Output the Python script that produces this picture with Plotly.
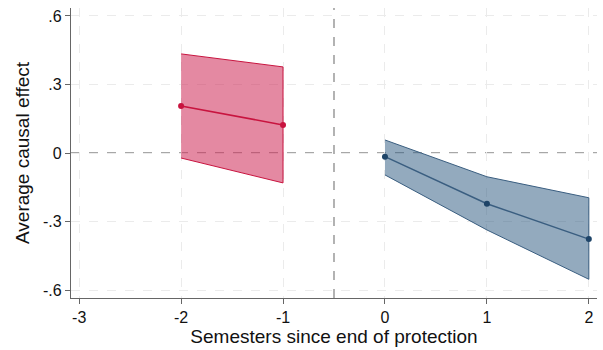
import plotly.graph_objects as go

pre_x = [-2, -1]
pre_est = [0.206, 0.123]
pre_hi = [0.434, 0.377]
pre_lo = [-0.022, -0.131]

post_x = [0, 1, 2]
post_est = [-0.016, -0.222, -0.377]
post_hi = [0.057, -0.104, -0.196]
post_lo = [-0.096, -0.337, -0.553]

x_ticks = [-3, -2, -1, 0, 1, 2]
x_labels = ["-3", "-2", "-1", "0", "1", "2"]
y_ticks = [-0.6, -0.3, 0, 0.3, 0.6]
y_labels = ["-.6", "-.3", "0", ".3", ".6"]

red_line = "#C8143F"
red_fill = "rgba(205,40,85,0.55)"
blue_line = "#3A5E80"
blue_fill = "rgba(40,85,125,0.5)"
blue_marker = "#1E4468"

fig = go.Figure()

def band(xs, hi, lo, fill, line):
    fig.add_trace(go.Scatter(
        x=list(xs) + list(xs)[::-1], y=list(hi) + list(lo)[::-1],
        fill="toself", fillcolor=fill, mode="lines",
        line=dict(color=line, width=1), hoverinfo="skip", showlegend=False))

band(pre_x, pre_hi, pre_lo, red_fill, red_line)
band(post_x, post_hi, post_lo, blue_fill, blue_line)

fig.add_trace(go.Scatter(x=pre_x, y=pre_est, mode="lines+markers",
                         line=dict(color=red_line, width=1.5),
                         marker=dict(color=red_line, size=6), showlegend=False))
fig.add_trace(go.Scatter(x=post_x, y=post_est, mode="lines+markers",
                         line=dict(color=blue_line, width=1.5),
                         marker=dict(color=blue_marker, size=6), showlegend=False))

fig.add_hline(y=0, line=dict(color="#8a8a8a", width=1.3, dash="dash"), layer="below")
fig.add_vline(x=-0.5, line=dict(color="#8a8a8a", width=1.3, dash="dash"), layer="below")

font = dict(family="Liberation Sans, Arial, sans-serif", size=16, color="#111")

fig.update_layout(
    width=603, height=350,
    margin=dict(l=71, r=6, t=8, b=52),
    paper_bgcolor="white", plot_bgcolor="white",
    font=font,
    xaxis=dict(range=[-3.08, 2.08], tickvals=x_ticks, ticktext=x_labels, ticks="outside", ticklen=5,
               tickcolor="#666", showline=True, linecolor="#666", linewidth=1.3,
               showgrid=True, gridcolor="#ebebeb", griddash="dash", gridwidth=1,
               zeroline=False, title=dict(text="Semesters since end of protection", standoff=4),
               tickfont=font),
    yaxis=dict(range=[-0.635, 0.635], tickvals=y_ticks, ticktext=y_labels, ticks="outside",
               ticklen=5, tickcolor="#666", showline=True, linecolor="#666", linewidth=1.3,
               showgrid=True, gridcolor="#ebebeb", griddash="dash", gridwidth=1,
               zeroline=False, title=dict(text="Average causal effect", standoff=8),
               tickfont=font),
)

fig.write_html("out.html", config={"displayModeBar": False},
               post_script="document.body.style.margin='0';document.body.style.overflow='hidden';")
